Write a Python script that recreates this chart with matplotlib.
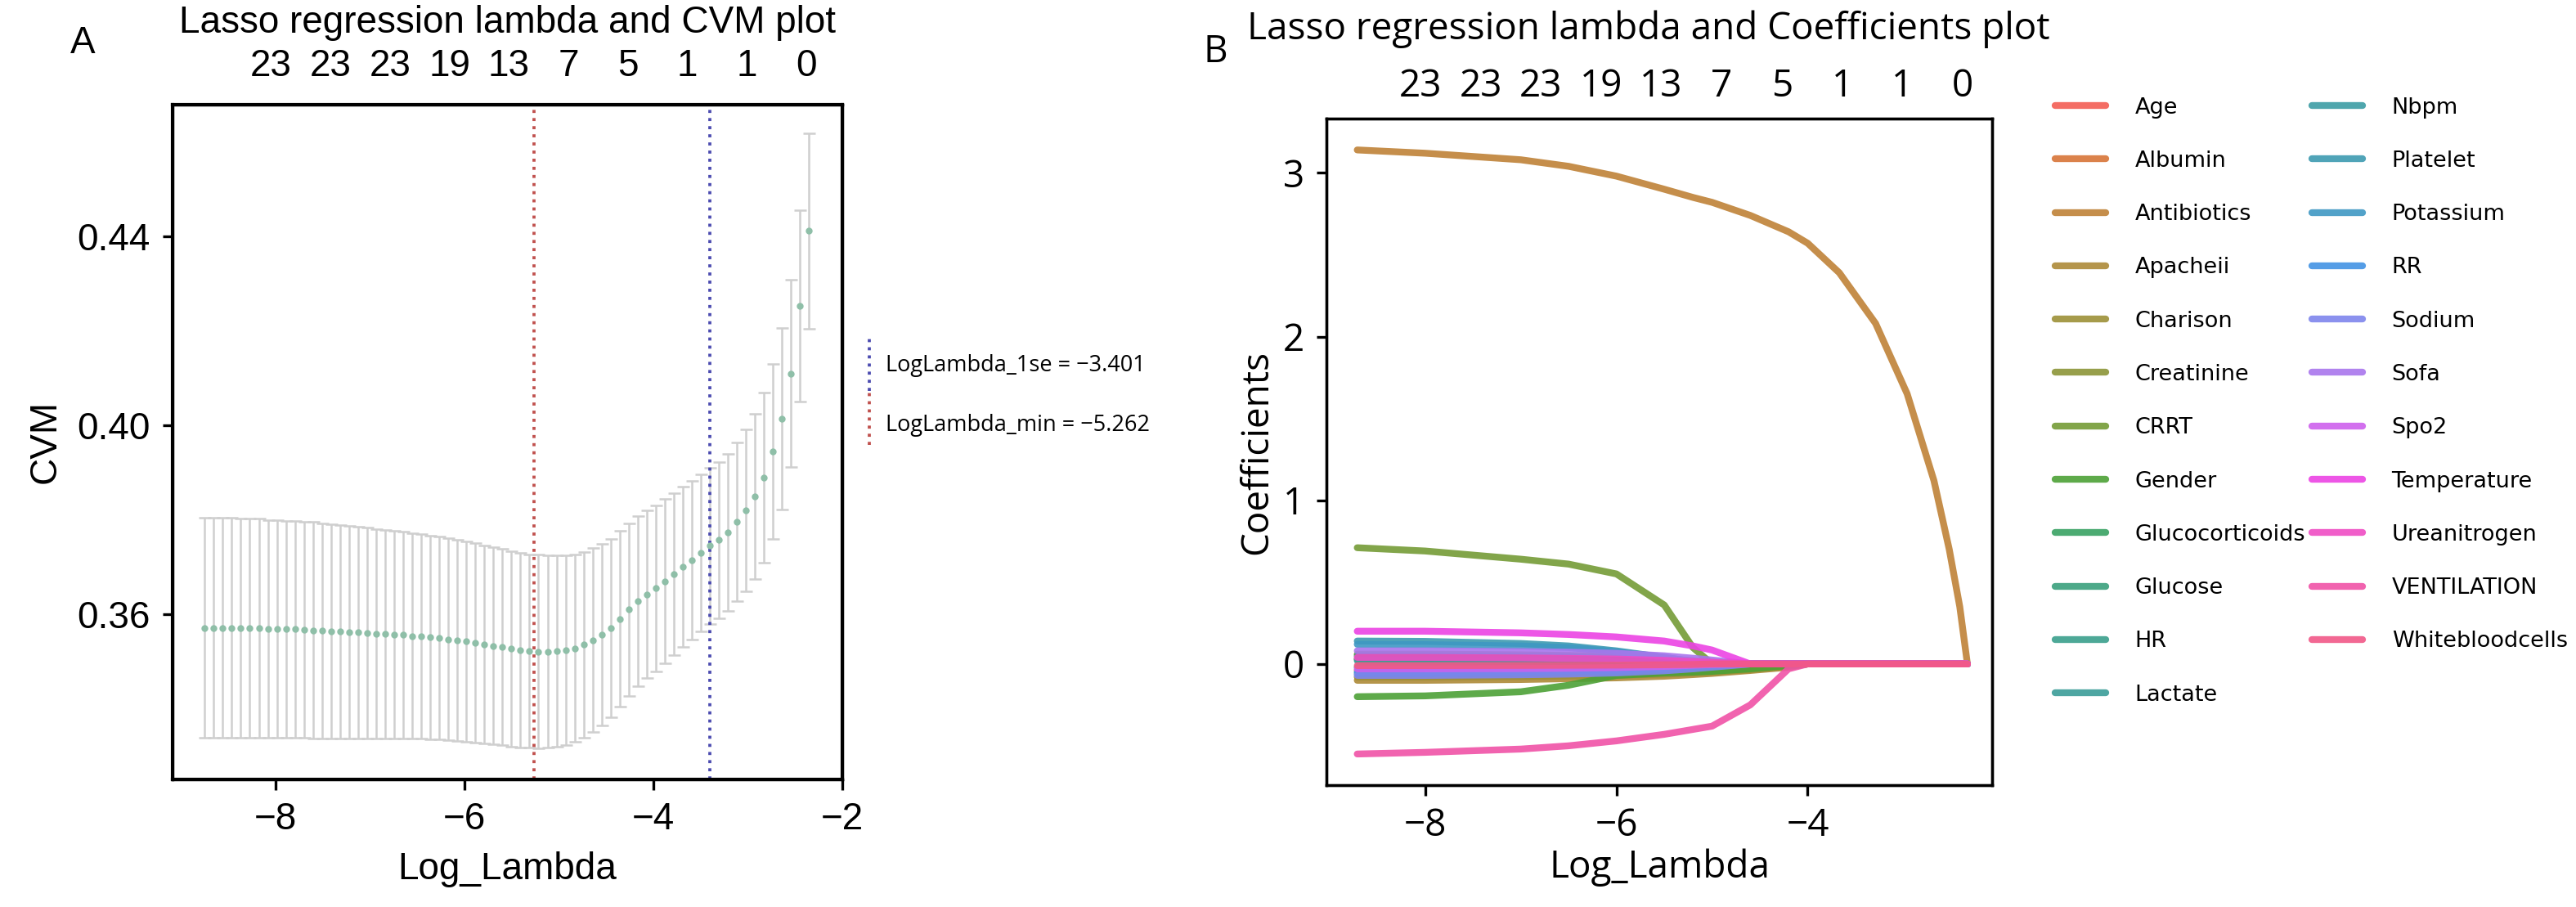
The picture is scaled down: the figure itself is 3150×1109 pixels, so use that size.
import numpy as np
import matplotlib.pyplot as plt
import seaborn as sns

# ---- Panel A data: CV curve ----
log_lam = np.round(-8.75 + 0.0955 * np.arange(68), 4)
cvm = [0.3571, 0.3571, 0.3571, 0.3571, 0.3570, 0.3570, 0.3570, 0.3569, 0.3569, 0.3568,
       0.3568, 0.3567, 0.3566, 0.3565, 0.3564, 0.3563, 0.3562, 0.3561, 0.3560, 0.3559,
       0.3558, 0.3557, 0.3556, 0.3554, 0.3553, 0.3551, 0.3549, 0.3547, 0.3545, 0.3542,
       0.3539, 0.3536, 0.3533, 0.3530, 0.3527, 0.3524, 0.3522, 0.3521, 0.3521, 0.3522,
       0.3524, 0.3528, 0.3535, 0.3545, 0.3557, 0.3570, 0.3590, 0.3610, 0.3628, 0.3642,
       0.3655, 0.3670, 0.3685, 0.3700, 0.3715, 0.3730, 0.3745, 0.3757, 0.3773, 0.3796,
       0.3820, 0.3850, 0.3890, 0.3945, 0.4014, 0.4110, 0.4253, 0.4412]
cvsd = [0.0233, 0.0233, 0.0233, 0.0233, 0.0232, 0.0232, 0.0232, 0.0231, 0.0231, 0.0230,
        0.0230, 0.0229, 0.0229, 0.0228, 0.0227, 0.0226, 0.0225, 0.0224, 0.0223, 0.0222,
        0.0221, 0.0220, 0.0219, 0.0218, 0.0217, 0.0216, 0.0215, 0.0214, 0.0213, 0.0212,
        0.0211, 0.0210, 0.0209, 0.0208, 0.0207, 0.0206, 0.0205, 0.0205, 0.0204, 0.0203,
        0.0201, 0.0199, 0.0197, 0.0195, 0.0192, 0.0189, 0.0186, 0.0183, 0.0180, 0.0178,
        0.0176, 0.0174, 0.0172, 0.0170, 0.0168, 0.0166, 0.0165, 0.0165, 0.0166, 0.0168,
        0.0171, 0.0175, 0.0180, 0.0186, 0.0192, 0.0198, 0.0203, 0.0207]
lam_1se = -3.401
lam_min = -5.262

top_pos = [-8.05, -7.42, -6.79, -6.16, -5.53, -4.90, -4.27, -3.64, -3.01, -2.38]
top_lab = ["23", "23", "23", "19", "13", "7", "5", "1", "1", "0"]

# ---- Panel B data: coefficient paths ----
names = ["Age", "Albumin", "Antibiotics", "Apacheii", "Charison", "Creatinine", "CRRT",
         "Gender", "Glucocorticoids", "Glucose", "HR", "Lactate", "Nbpm", "Platelet",
         "Potassium", "RR", "Sodium", "Sofa", "Spo2", "Temperature", "Ureanitrogen",
         "VENTILATION", "Whitebloodcells"]
path_lam = [-8.71, -8.0, -7.0, -6.5, -6.0, -5.5, -5.2, -5.0, -4.6, -4.2, -4.0,
            -3.67, -3.29, -2.96, -2.68, -2.52, -2.41, -2.33]
coefs = [
    [0.03, 0.03, 0.028, 0.026, 0.022, 0.015, 0.008, 0.004, 0, 0, 0, 0, 0, 0, 0, 0, 0, 0],
    [-0.04, -0.04, -0.037, -0.034, -0.03, -0.02, -0.012, -0.006, 0, 0, 0, 0, 0, 0, 0, 0, 0, 0],
    [3.14, 3.12, 3.08, 3.04, 2.98, 2.90, 2.85, 2.82, 2.74, 2.64, 2.57, 2.39, 2.08, 1.65, 1.12, 0.70, 0.35, 0.0],
    [-0.10, -0.10, -0.095, -0.09, -0.085, -0.075, -0.065, -0.058, -0.04, -0.02, 0, 0, 0, 0, 0, 0, 0, 0],
    [-0.08, -0.08, -0.077, -0.074, -0.07, -0.062, -0.055, -0.05, -0.035, -0.015, 0, 0, 0, 0, 0, 0, 0, 0],
    [0.06, 0.06, 0.056, 0.052, 0.045, 0.032, 0.02, 0.012, 0, 0, 0, 0, 0, 0, 0, 0, 0, 0],
    [0.71, 0.69, 0.64, 0.61, 0.55, 0.36, 0.10, 0.0, 0, 0, 0, 0, 0, 0, 0, 0, 0, 0],
    [-0.20, -0.195, -0.17, -0.13, -0.07, -0.055, -0.05, -0.045, -0.03, -0.01, 0, 0, 0, 0, 0, 0, 0, 0],
    [0.05, 0.05, 0.047, 0.044, 0.038, 0.026, 0.015, 0.008, 0, 0, 0, 0, 0, 0, 0, 0, 0, 0],
    [0.03, 0.03, 0.028, 0.026, 0.022, 0.014, 0.007, 0.003, 0, 0, 0, 0, 0, 0, 0, 0, 0, 0],
    [-0.02, -0.02, -0.018, -0.016, -0.013, -0.008, -0.004, 0, 0, 0, 0, 0, 0, 0, 0, 0, 0, 0],
    [0.02, 0.02, 0.018, 0.016, 0.013, 0.008, 0.004, 0, 0, 0, 0, 0, 0, 0, 0, 0, 0, 0],
    [-0.06, -0.06, -0.056, -0.052, -0.046, -0.034, -0.022, -0.014, 0, 0, 0, 0, 0, 0, 0, 0, 0, 0],
    [0.14, 0.138, 0.125, 0.11, 0.08, 0.04, 0.015, 0.0, 0, 0, 0, 0, 0, 0, 0, 0, 0, 0],
    [0.12, 0.118, 0.11, 0.10, 0.075, 0.04, 0.015, 0.0, 0, 0, 0, 0, 0, 0, 0, 0, 0, 0],
    [-0.05, -0.05, -0.046, -0.042, -0.036, -0.025, -0.015, -0.008, 0, 0, 0, 0, 0, 0, 0, 0, 0, 0],
    [-0.07, -0.07, -0.066, -0.062, -0.055, -0.042, -0.03, -0.02, 0, 0, 0, 0, 0, 0, 0, 0, 0, 0],
    [0.08, 0.08, 0.076, 0.072, 0.065, 0.05, 0.035, 0.024, 0, 0, 0, 0, 0, 0, 0, 0, 0, 0],
    [-0.03, -0.03, -0.028, -0.026, -0.022, -0.015, -0.008, -0.004, 0, 0, 0, 0, 0, 0, 0, 0, 0, 0],
    [0.20, 0.20, 0.19, 0.18, 0.165, 0.14, 0.11, 0.085, 0.0, 0, 0, 0, 0, 0, 0, 0, 0, 0],
    [0.04, 0.04, 0.037, 0.034, 0.03, 0.022, 0.015, 0.01, 0, 0, 0, 0, 0, 0, 0, 0, 0, 0],
    [-0.55, -0.54, -0.52, -0.50, -0.47, -0.43, -0.40, -0.38, -0.25, -0.03, 0, 0, 0, 0, 0, 0, 0, 0],
    [-0.01, -0.01, -0.009, -0.008, -0.007, -0.005, -0.003, 0, 0, 0, 0, 0, 0, 0, 0, 0, 0, 0],
]

narrow = ["Liberation Sans Narrow", "Liberation Sans", "DejaVu Sans"]
wide = ["Open Sans", "DejaVu Sans"]
fig = plt.figure(figsize=(10.5, 3.697), dpi=300)

# ---------------- Panel A ----------------
ax1 = fig.add_axes([0.067, 0.1407, 0.26, 0.744])
ax1.errorbar(log_lam, cvm, yerr=cvsd, fmt="o", ms=1.0, color="#8fbfa8",
             ecolor="#cfcfcf", elinewidth=0.6, capsize=1.8, capthick=0.6)
ax1.axvline(lam_min, color="#c0504d", ls=":", lw=0.9)
ax1.axvline(lam_1se, color="#4b4bb0", ls=":", lw=0.9)
ax1.set_xlim(-9.09, -2)
ax1.set_ylim(0.325, 0.468)
ax1.set_xticks([-8, -6, -4, -2])
ax1.set_yticks([0.36, 0.40, 0.44])
ax1.set_yticklabels(["0.36", "0.40", "0.44"])
ax1.set_xticklabels(["\u22128", "\u22126", "\u22124", "\u22122"])
ax1.tick_params(labelsize=11, width=0.8, length=3)
for lab in ax1.get_xticklabels() + ax1.get_yticklabels():
    lab.set_family(narrow)
ax1.set_xlabel("Log_Lambda", fontsize=11, family=narrow)
ax1.set_ylabel("CVM", fontsize=11, family=narrow)
for s in ax1.spines.values():
    s.set_linewidth(1.0)
top1 = ax1.twiny()
top1.set_xlim(ax1.get_xlim())
top1.set_xticks(top_pos)
top1.set_xticklabels(top_lab, family=narrow, fontsize=11)
top1.tick_params(length=0, pad=6)
fig.text(0.197, 0.975, "Lasso regression lambda and CVM plot",
         ha="center", va="center", fontsize=11, family=narrow)
fig.text(0.032, 0.952, "A", ha="center", va="center", fontsize=11, family=narrow)

# legend for the two vertical lines
ax1.plot([1.04, 1.04], [0.575, 0.655], transform=ax1.transAxes, clip_on=False,
         color="#4b4bb0", ls=":", lw=0.9)
ax1.plot([1.04, 1.04], [0.495, 0.575], transform=ax1.transAxes, clip_on=False,
         color="#c0504d", ls=":", lw=0.9)
ax1.text(1.065, 0.613, "LogLambda_1se = \u22123.401", transform=ax1.transAxes,
         fontsize=6.5, va="center", family=wide)
ax1.text(1.065, 0.525, "LogLambda_min = \u22125.262", transform=ax1.transAxes,
         fontsize=6.5, va="center", family=wide)

# ---------------- Panel B ----------------
ax2 = fig.add_axes([0.515, 0.1344, 0.2584, 0.7345])
colors = sns.husl_palette(len(names), h=0.04, s=0.85, l=0.6)
handles = []
for name, c, vals in zip(names, colors, coefs):
    h, = ax2.plot(path_lam, vals, color=c, lw=2.0, alpha=0.9, label=name,
                  solid_capstyle="round")
    handles.append(h)
ax2.set_xlim(-9.03, -2.07)
ax2.set_ylim(-0.74, 3.33)
ax2.set_xticks([-8, -6, -4])
ax2.set_xticklabels(["\u22128", "\u22126", "\u22124"])
ax2.set_yticks([0, 1, 2, 3])
ax2.tick_params(labelsize=11, width=0.8, length=3)
for lab in ax2.get_xticklabels() + ax2.get_yticklabels():
    lab.set_family(wide)
ax2.set_xlabel("Log_Lambda", fontsize=11, family=wide, labelpad=1)
ax2.set_ylabel("Coefficients", fontsize=11, family=wide, labelpad=2)
top2 = ax2.twiny()
top2.set_xlim(ax2.get_xlim())
top2.set_xticks(top_pos)
top2.set_xticklabels(top_lab, family=wide, fontsize=11)
top2.tick_params(length=0, pad=4)
fig.text(0.484, 0.968, "Lasso regression lambda and Coefficients plot",
         ha="left", va="center", fontsize=11, family=wide)
fig.text(0.472, 0.942, "B", ha="center", va="center", fontsize=11, family=wide)

fig.legend(handles=handles, loc="upper left", bbox_to_anchor=(0.79, 0.915),
           ncol=2, frameon=False, fontsize=6.5, handlelength=2.3, handletextpad=1.3,
           columnspacing=0.3, labelspacing=1.45)

plt.savefig("out.png", dpi=300)
